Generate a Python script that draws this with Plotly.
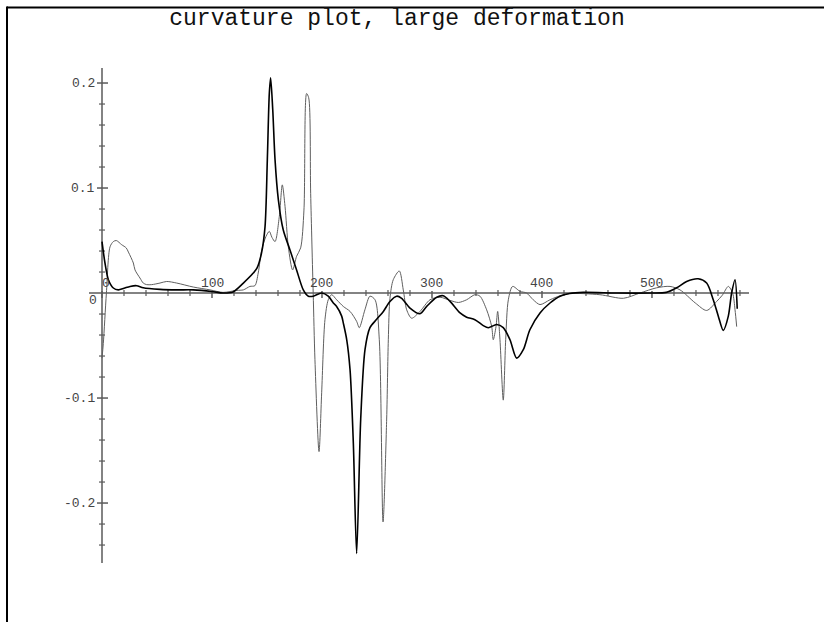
import plotly.graph_objects as go

# ---------------- data ----------------
black_x = [0, 2.7, 5.8, 10.3, 14.8, 20, 25.5, 31.5, 37.5, 52.7, 68, 83, 99.7, 110, 119, 128.5,
           137.5, 141, 145, 148.2, 150.3, 152.1, 153.3, 155.2, 157.3, 160.3, 164.8, 170.9, 176.9,
           183, 187.6, 192, 199.7, 205.7, 210.3, 213.3, 217.9, 219.4, 222.5, 225.5, 228.5, 231.5,
           235.2, 239.1, 243.6, 249.7, 255.8, 261.8, 267.9, 272.4, 280, 289.1, 295.2, 304.3, 310.3,
           316.4, 325.5, 331.5, 339, 346.6, 351.2, 358.8, 364.8, 370.9, 377, 383, 389, 398.2, 407.3,
           416.4, 425, 437.5, 468, 498, 513, 522.5, 531.5, 542, 549.7, 555.7, 560.3, 564.8, 569.4,
           572.4, 575.5, 577.5]
black_y = [0.049, 0.0286, 0.0127, 0.0048, 0.003, 0.0045, 0.0063, 0.007, 0.005, 0.0035, 0.003, 0.003,
           0.0015, 0.0, 0.001, 0.0095, 0.019, 0.024, 0.038, 0.063, 0.127, 0.19, 0.205, 0.175, 0.127,
           0.089, 0.060, 0.041, 0.022, 0.003, -0.003, -0.003, 0.0, -0.003, -0.0095, -0.0128, -0.022,
           -0.0286, -0.0445, -0.073, -0.143, -0.248, -0.12, -0.054, -0.033, -0.025, -0.0175, -0.008,
           -0.003, -0.005, -0.0143, -0.0197, -0.0127, -0.004, -0.0026, -0.008, -0.019, -0.023,
           -0.0254, -0.031, -0.033, -0.030, -0.033, -0.0445, -0.062, -0.054, -0.035, -0.019, -0.0095,
           -0.003, -0.0005, 0.0006, 0.0, 0.0, 0.0006, 0.005, 0.011, 0.0136, 0.0095, -0.0064, -0.022,
           -0.0356, -0.022, 0.0, 0.0127, -0.015]

gray_x = [0, 1.2, 4, 7.3, 10.3, 13, 17.9, 22, 24, 28.5, 30, 34.5, 37.5, 40.6, 45.2, 52.7, 58.8, 67.9,
          83, 98.2, 110, 122.4, 128.5, 134.5, 139, 142, 145.2, 149.1, 152.1, 154.5, 157.3, 161.2,
          163.9, 166.4, 169.4, 173.3, 176.9, 180.6, 183.6, 186, 187.9, 189.7, 192, 193.6, 197.3,
          199.7, 202.7, 205.7, 208.8, 213.3, 219.4, 225.5, 231.5, 233.9, 239, 243.6, 248.2, 252.1,
          255.5, 258.8, 260.3, 261.8, 264.8, 270.3, 273.9, 277, 281.5, 289.1, 298.2, 307.3, 316.4,
          324, 331.5, 339, 343.6, 349.7, 354.3, 355.7, 358.2, 359.7, 361.8, 364.8, 367, 369.4, 373.3,
          380, 386, 392, 398.2, 407.3, 416.4, 425, 452.7, 474, 489, 504.3, 516.4, 525.5, 539.4,
          549.7, 558.8, 564, 569.4, 573.3, 575.5, 577]
gray_y = [-0.062, -0.048, 0.0, 0.044, 0.049, 0.05, 0.046, 0.043, 0.039, 0.0286, 0.022, 0.0143, 0.0095,
          0.008, 0.008, 0.0095, 0.011, 0.0095, 0.0057, 0.003, 0.0006, 0.0025, 0.003, 0.0063, 0.007,
          0.019, 0.041, 0.054, 0.0587, 0.053, 0.049, 0.073, 0.103, 0.0825, 0.044, 0.022, 0.035, 0.043,
          0.079, 0.19, 0.186, 0.095, 0.0, -0.0635, -0.151, -0.095, -0.0254, -0.0064, -0.0016, -0.0064,
          -0.0128, -0.0175, -0.027, -0.033, -0.016, -0.003, -0.0064, -0.0445, -0.218, -0.12, -0.0445,
          -0.005, 0.0127, 0.021, 0.003, -0.016, -0.024, -0.0175, -0.0064, -0.004, -0.007, -0.009,
          -0.0064, -0.0016, -0.003, -0.016, -0.032, -0.0445, -0.032, -0.0175, -0.0445, -0.102,
          -0.0445, -0.0064, 0.0063, 0.0016, 0.0, -0.0064, -0.011, -0.0064, -0.0026, -0.0005, -0.0016,
          -0.005, 0.0, 0.005, 0.0063, 0.003, -0.0095, -0.0166, -0.008, -0.002, 0.0063, 0.0, -0.016,
          -0.032]

x_major_ticks = [0, 100, 200, 300, 400, 500]
x_major_labels = ["0", "100", "200", "300", "400", "500"]
x_minor_ticks = [v for v in range(20, 600, 20) if v % 100 != 0]
y_major_ticks = [0.2, 0.1, 0.0, -0.1, -0.2]
y_major_labels = ["0.2", "0.1", "0", "-0.1", "-0.2"]
y_minor_ticks = [k / 100 for k in range(-24, 21, 2) if k % 10 != 0]

title_text = "curvature plot, large deformation"

# ---------------- figure ----------------
W, H = 824, 622
ML, MR, MT, MB = 89, 75, 68, 59
x_range = [-11.82, 588.2]
y_range = [-0.2571, 0.2143]

AX = "#5a5a5a"
TICKFONT = dict(family="Liberation Mono, DejaVu Sans Mono, monospace", size=13, color="#444444")

fig = go.Figure()
fig.add_trace(go.Scatter(x=gray_x, y=gray_y, mode="lines",
                         line=dict(color="#5f5f5f", width=1, shape="spline", smoothing=0.8),
                         hoverinfo="skip", showlegend=False))
fig.add_trace(go.Scatter(x=black_x, y=black_y, mode="lines",
                         line=dict(color="#000000", width=1.6, shape="spline", smoothing=0.8),
                         hoverinfo="skip", showlegend=False))

shapes = []
# axes lines
shapes.append(dict(type="line", xref="x", yref="y", x0=x_range[0], x1=x_range[1], y0=0, y1=0,
                   line=dict(color=AX, width=1.5), layer="below"))
shapes.append(dict(type="line", xref="x", yref="y", x0=0, x1=0, y0=y_range[0], y1=y_range[1],
                   line=dict(color=AX, width=1.5), layer="below"))
# x ticks
for v in x_major_ticks:
    shapes.append(dict(type="line", xref="x", yref="y", x0=v, x1=v, ysizemode="pixel", yanchor=0,
                       y0=-5, y1=2, line=dict(color=AX, width=1.5), layer="below"))
for v in x_minor_ticks:
    shapes.append(dict(type="line", xref="x", yref="y", x0=v, x1=v, ysizemode="pixel", yanchor=0,
                       y0=-3, y1=3, line=dict(color=AX, width=1.2), layer="below"))
# y ticks
for v in y_major_ticks:
    if v == 0:
        continue
    shapes.append(dict(type="line", xref="x", yref="y", y0=v, y1=v, xsizemode="pixel", xanchor=0,
                       x0=-5, x1=6, line=dict(color=AX, width=1.5), layer="below"))
for v in y_minor_ticks:
    shapes.append(dict(type="line", xref="x", yref="y", y0=v, y1=v, xsizemode="pixel", xanchor=0,
                       x0=-3, x1=3, line=dict(color=AX, width=1.2), layer="below"))

# outer frame (top and left edges)
pw = W - ML - MR
ph = H - MT - MB
fx = lambda px: (px - ML) / pw
fy = lambda py: 1 - (py - MT) / ph
shapes.append(dict(type="line", xref="paper", yref="paper", x0=fx(7), x1=fx(W + 5), y0=fy(7.5), y1=fy(7.5),
                   line=dict(color="#000000", width=2)))
shapes.append(dict(type="line", xref="paper", yref="paper", x0=fx(7), x1=fx(7), y0=fy(6.5), y1=fy(H + 5),
                   line=dict(color="#000000", width=2)))

annotations = []
for v, t in zip(x_major_ticks, x_major_labels):
    annotations.append(dict(x=v, y=0, xref="x", yref="y", text=t, showarrow=False,
                            xanchor="center", yanchor="bottom", yshift=0,
                            xshift=(4 if v == 0 else 0), font=TICKFONT))
for v, t in zip(y_major_ticks, y_major_labels):
    if v == 0:
        annotations.append(dict(x=0, y=0, xref="x", yref="y", text=t, showarrow=False,
                                xanchor="right", yanchor="top", xshift=-3, yshift=2, font=TICKFONT))
    else:
        annotations.append(dict(x=0, y=v, xref="x", yref="y", text=t, showarrow=False,
                                xanchor="right", yanchor="middle", xshift=-5, font=TICKFONT))

fig.update_layout(
    width=W, height=H,
    margin=dict(l=ML, r=MR, t=MT, b=MB, pad=0),
    paper_bgcolor="white", plot_bgcolor="white",
    title=dict(text=title_text, x=397 / W, xanchor="center", xref="paper" if False else "container",
               y=1 - 17 / H, yanchor="middle", yref="container",
               font=dict(family="Liberation Mono, Courier New, monospace", size=23, color="#111111")),
    xaxis=dict(range=x_range, visible=False, fixedrange=True),
    yaxis=dict(range=y_range, visible=False, fixedrange=True),
    shapes=shapes,
    annotations=annotations,
    showlegend=False,
)

fig.write_html("out.html", config={"displayModeBar": False},
               post_script="document.body.style.margin='0';")
